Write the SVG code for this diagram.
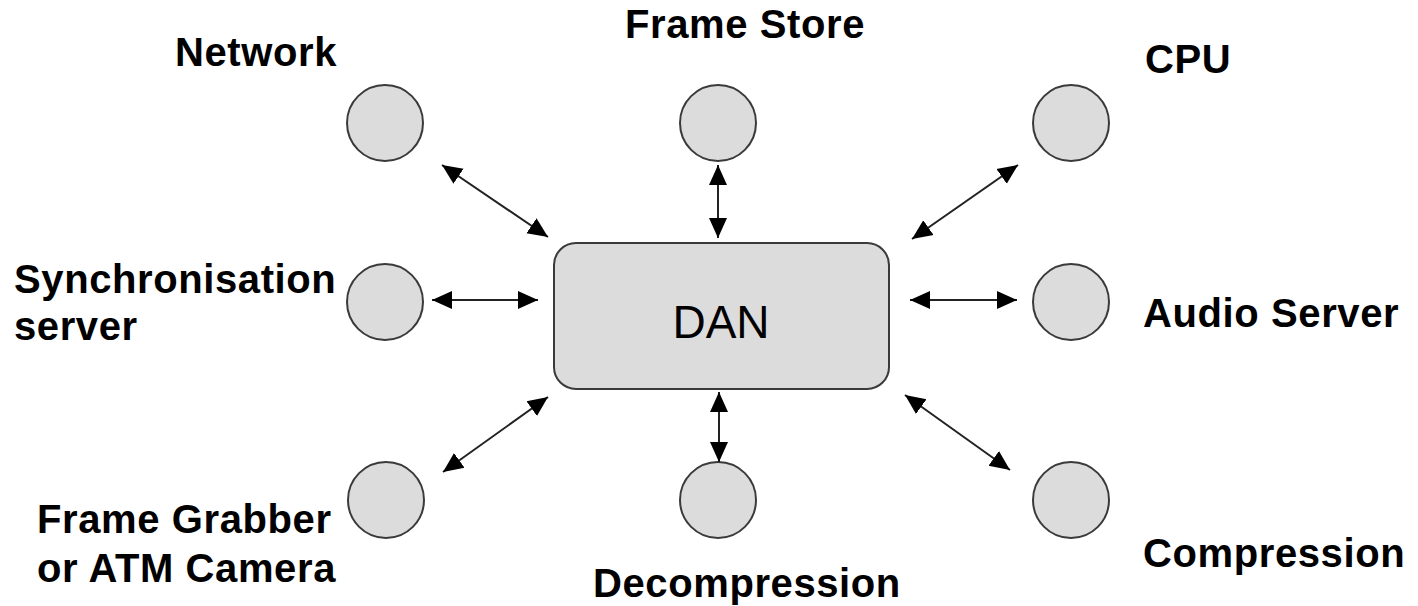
<svg xmlns="http://www.w3.org/2000/svg" width="1418" height="606" viewBox="0 0 1418 606">
<style>
.node circle{fill:#dcdcdc;stroke:#3a3a3a;stroke-width:2}
.lbl{font-family:"Liberation Sans",Arial,sans-serif;font-weight:bold;font-size:40px;fill:#000;letter-spacing:0.6px}
.dan{font-family:"Liberation Sans",Arial,sans-serif;font-size:46px;fill:#000}
#connectors line{stroke:#222;stroke-width:2;marker-start:url(#ah);marker-end:url(#ah)}
</style>
<defs>
<marker id="ah" markerUnits="userSpaceOnUse" markerWidth="22" markerHeight="20" viewBox="0 0 22 20" refX="20" refY="10" orient="auto-start-reverse">
<path d="M0,1 L20,10 L0,19 Z" fill="#000"/>
</marker>
</defs>
<rect width="1418" height="606" fill="#fff"/>
<g id="dan" class="node">
<rect x="554" y="243" width="335" height="146" rx="22" ry="22" fill="#dcdcdc" stroke="#3a3a3a" stroke-width="2"/>
<text class="dan" x="721" y="338" text-anchor="middle">DAN</text>
</g>
<g id="network" class="node">
<circle cx="385" cy="123" r="38"/>
<text class="lbl" x="175" y="66">Network</text>
</g>
<g id="framestore" class="node">
<circle cx="718" cy="123" r="38"/>
<text class="lbl" x="625" y="38">Frame Store</text>
</g>
<g id="cpu" class="node">
<circle cx="1071" cy="123" r="38"/>
<text class="lbl" x="1145" y="73">CPU</text>
</g>
<g id="sync" class="node">
<circle cx="385" cy="302" r="38"/>
<text class="lbl" x="14" y="293">Synchronisation</text>
<text class="lbl" x="14" y="340">server</text>
</g>
<g id="audio" class="node">
<circle cx="1071" cy="302" r="38"/>
<text class="lbl" x="1143" y="327">Audio Server</text>
</g>
<g id="grabber" class="node">
<circle cx="386" cy="500" r="38"/>
<text class="lbl" x="37" y="533">Frame Grabber</text>
<text class="lbl" x="37" y="582">or ATM Camera</text>
</g>
<g id="decompression" class="node">
<circle cx="718" cy="500" r="38"/>
<text class="lbl" x="593" y="597">Decompression</text>
</g>
<g id="compression" class="node">
<circle cx="1071" cy="500" r="38"/>
<text class="lbl" x="1143" y="567">Compression</text>
</g>
<g id="connectors">
<line x1="442" y1="165" x2="548" y2="237"/>
<line x1="718" y1="165" x2="718" y2="238"/>
<line x1="1018" y1="165" x2="912" y2="239"/>
<line x1="432" y1="300" x2="538" y2="300"/>
<line x1="910" y1="300" x2="1017" y2="300"/>
<line x1="443" y1="472" x2="548" y2="397"/>
<line x1="719" y1="392" x2="719" y2="462"/>
<line x1="905" y1="395" x2="1010" y2="470"/>
</g>
</svg>
